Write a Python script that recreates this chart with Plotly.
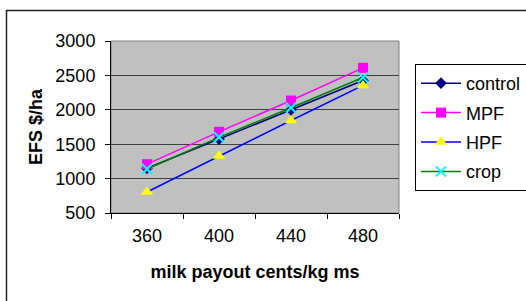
import plotly.graph_objects as go

categories = ["360", "400", "440", "480"]
control = [1150, 1575, 2000, 2425]
mpf = [1210, 1680, 2135, 2610]
hpf = [805, 1330, 1845, 2355]
crop = [1140, 1600, 2030, 2470]

y_ticks = [500, 1000, 1500, 2000, 2500, 3000]

FONT = "Liberation Sans, Arial, sans-serif"

fig = go.Figure()
fig.add_trace(go.Scatter(x=categories, y=control, name="control", mode="lines+markers",
                         line=dict(color="#000080", width=1.5),
                         marker=dict(symbol="diamond", size=9, color="#000080"),
                         legendgroup="a"))
fig.add_trace(go.Scatter(x=categories, y=mpf, name="MPF", mode="lines+markers",
                         line=dict(color="#FF00FF", width=1.5),
                         marker=dict(symbol="square", size=10, color="#FF00FF"),
                         legendgroup="b"))
fig.add_trace(go.Scatter(x=categories, y=hpf, name="HPF", mode="lines+markers",
                         line=dict(color="#0000FF", width=1.5),
                         marker=dict(symbol="triangle-up", size=11, color="#FFFF00"),
                         legendgroup="c"))
fig.add_trace(go.Scatter(x=categories, y=crop, name="crop", mode="lines+markers",
                         line=dict(color="#008000", width=1.5),
                         marker=dict(symbol="x-thin", size=10, color="#00FFFF",
                                     line=dict(color="#00FFFF", width=2)),
                         legendgroup="d"))

L, R, T, B = 111, 127, 41, 88
W, H = 526, 301
pw, ph = W - L - R, H - T - B

def px_x(x):
    return (x - L) / pw

def px_y(y):
    return (H - B - y) / ph

fig.update_layout(
    width=W, height=H,
    margin=dict(l=L, r=R, t=T, b=B, pad=0, autoexpand=False),
    paper_bgcolor="white",
    plot_bgcolor="#C0C0C0",
    font=dict(family=FONT, size=18, color="black"),
    showlegend=True,
    legend=dict(
        x=px_x(415), y=px_y(64), xanchor="left", yanchor="top",
        xref="paper", yref="paper",
        bordercolor="black", borderwidth=1, bgcolor="white",
        font=dict(family=FONT, size=18, color="black"),
        tracegroupgap=3, itemwidth=40,
    ),
    xaxis=dict(
        type="category", range=[-0.5, 3.5], automargin=False,
        tickmode="array", tickvals=categories, ticktext=categories,
        ticks="outside", tickson="boundaries", ticklen=5, tickcolor="black",
        showline=True, linecolor="black", linewidth=1,
        showgrid=False, zeroline=False,
        tickfont=dict(family=FONT, size=18),
        ticklabelstandoff=6,
        title=dict(text="<b>milk payout cents/kg ms</b>", standoff=20,
                   font=dict(family=FONT, size=18)),
    ),
    yaxis=dict(
        range=[500, 3000], automargin=False,
        tickmode="array", tickvals=y_ticks,
        ticks="outside", ticklen=5, tickcolor="black",
        showline=True, linecolor="black", linewidth=1,
        showgrid=True, gridcolor="#404040", gridwidth=1,
        zeroline=False,
        tickfont=dict(family=FONT, size=18),
        ticklabelstandoff=6,
        title=dict(text="<b>EFS $/ha</b>", standoff=8,
                   font=dict(family=FONT, size=18)),
    ),
    shapes=[
        dict(type="rect", xref="paper", yref="paper", x0=0, x1=1, y0=0, y1=1,
             line=dict(color="#808080", width=1), layer="below"),
        dict(type="rect", xref="paper", yref="paper",
             x0=px_x(6.5), x1=px_x(540), y0=px_y(320), y1=px_y(10.5),
             line=dict(color="#222222", width=1.5), layer="below"),
    ],
)

fig.write_html("out.html", config={"displayModeBar": False},
               post_script="document.body.style.margin='0';")
